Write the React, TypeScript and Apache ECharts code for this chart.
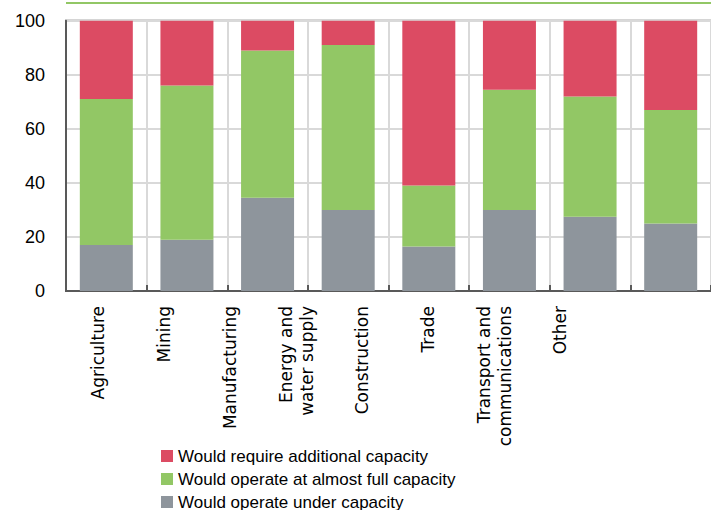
import React, { useEffect, useRef } from "react";
import * as echarts from "echarts";

// Sectors shown along the horizontal axis
const categories = [
  "Agriculture",
  "Mining",
  "Manufacturing",
  "Energy and\nwater supply",
  "Construction",
  "Trade",
  "Transport and\ncommunications",
  "Other",
];

// Shares of firms (%) by expected capacity use
const underCapacity = [17, 19, 34.5, 30, 16.5, 30, 27.5, 25];
const almostFull = [54, 57, 54.5, 61, 22.5, 44.5, 44.5, 42];
const additional = [29, 24, 11, 9, 61, 25.5, 28, 33];

const seriesNames = {
  under: "Would operate under capacity",
  full: "Would operate at almost full capacity",
  additional: "Would require additional capacity",
};

const yTicks = { min: 0, max: 100, interval: 20 };

const COLORS = {
  red: "#dc4b63",
  green: "#92c765",
  gray: "#8e959c",
  axis: "#595959",
  grid: "#d9d9d9",
};

export default function App() {
  const ref = useRef<HTMLDivElement>(null);

  useEffect(() => {
    if (!ref.current) return;
    const chart = echarts.init(ref.current, undefined, { renderer: "svg" });

    const font = "'Liberation Sans', Arial, sans-serif";
    const barWidth = 53;

    chart.setOption({
      animation: false,
      backgroundColor: "#ffffff",
      textStyle: { fontFamily: font, color: "#000" },
      graphic: [
        {
          type: "line",
          shape: { x1: 66, y1: 3, x2: 711, y2: 3 },
          style: { stroke: COLORS.green, lineWidth: 2 },
          silent: true,
        },
      ],
      grid: [
        {
          left: 66,
          top: 20.7,
          width: 658,
          height: 270.3,
          show: true,
          borderColor: COLORS.axis,
          borderWidth: 2,
          backgroundColor: "transparent",
        },
        {
          // label band for the sector names
          left: 65,
          top: 20.7,
          width: 528,
          height: 270.3,
          show: false,
        },
      ],
      legend: {
        orient: "vertical",
        left: 161,
        top: 447,
        height: 90,
        padding: 0,
        itemWidth: 12,
        itemHeight: 12,
        itemGap: 5,
        icon: "rect",
        textStyle: { fontFamily: font, fontSize: 17, color: "#000", lineHeight: 18 },
        data: [seriesNames.additional, seriesNames.full, seriesNames.under],
      },
      xAxis: [
        {
          type: "category",
          gridIndex: 0,
          data: categories,
          axisLine: { show: true, lineStyle: { color: COLORS.axis, width: 2 } },
          axisTick: {
            show: true,
            inside: true,
            length: 6,
            interval: 0,
            lineStyle: { color: COLORS.axis, width: 2 },
          },
          axisLabel: { show: false, interval: 0 },
          splitLine: {
            show: true,
            interval: 0,
            lineStyle: { color: COLORS.grid, width: 2 },
          },
        },
        {
          type: "category",
          gridIndex: 1,
          data: categories,
          axisLine: { show: false },
          axisTick: { show: false },
          splitLine: { show: false },
          axisLabel: {
            show: true,
            rotate: 90,
            margin: 15,
            interval: 0,
            fontFamily: "'DejaVu Sans', sans-serif",
            fontSize: 17,
            color: "#000",
            lineHeight: 21,
          },
        },
      ],
      yAxis: [
        {
          type: "value",
          gridIndex: 0,
          min: yTicks.min,
          max: yTicks.max,
          interval: yTicks.interval,
          axisLine: { show: true, lineStyle: { color: COLORS.axis, width: 2 } },
          axisTick: { show: false },
          axisLabel: { margin: 21, fontSize: 18, color: "#000", fontFamily: font },
          splitLine: { show: true, lineStyle: { color: COLORS.grid, width: 2 } },
        },
        {
          type: "value",
          gridIndex: 1,
          min: 0,
          max: 100,
          show: false,
        },
      ],
      series: [
        {
          name: seriesNames.under,
          type: "bar",
          stack: "total",
          xAxisIndex: 0,
          yAxisIndex: 0,
          barWidth,
          itemStyle: { color: COLORS.gray },
          data: underCapacity,
        },
        {
          name: seriesNames.full,
          type: "bar",
          stack: "total",
          xAxisIndex: 0,
          yAxisIndex: 0,
          barWidth,
          itemStyle: { color: COLORS.green },
          data: almostFull,
        },
        {
          name: seriesNames.additional,
          type: "bar",
          stack: "total",
          xAxisIndex: 0,
          yAxisIndex: 0,
          barWidth,
          itemStyle: { color: COLORS.red },
          data: additional,
        },
      ],
    });

    return () => chart.dispose();
  }, []);

  return (
    <div
      ref={ref}
      style={{ position: "fixed", left: 0, top: 0, width: 711, height: 510 }}
    />
  );
}
